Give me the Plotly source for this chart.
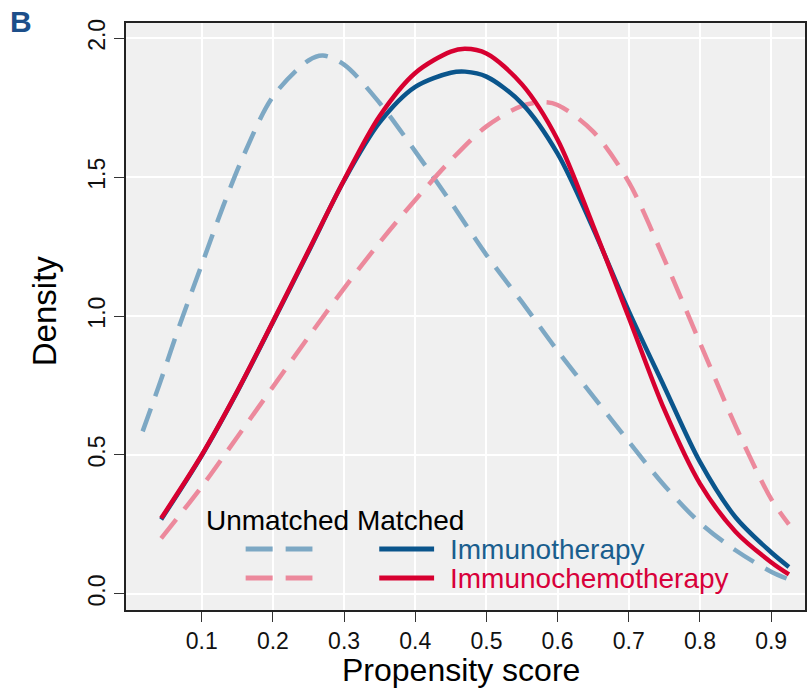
import plotly.graph_objects as go

# ---- data ----
unm_immuno_x = [0.017, 0.04, 0.07, 0.10, 0.13, 0.16, 0.20, 0.25, 0.27, 0.30, 0.35, 0.40, 0.45,
                0.50, 0.55, 0.60, 0.65, 0.70, 0.75, 0.80, 0.85, 0.90, 0.925]
unm_immuno_y = [0.585, 0.750, 0.975, 1.185, 1.395, 1.585, 1.790, 1.920, 1.938, 1.905, 1.767, 1.593, 1.410,
                1.220, 1.050, 0.875, 0.711, 0.548, 0.390, 0.256, 0.157, 0.080, 0.052]

unm_chemo_x = [0.043, 0.10, 0.15, 0.20, 0.25, 0.30, 0.35, 0.40, 0.45, 0.50, 0.55, 0.58,
               0.60, 0.65, 0.70, 0.75, 0.80, 0.85, 0.90, 0.925]
unm_chemo_y = [0.200, 0.386, 0.565, 0.745, 0.925, 1.100, 1.265, 1.418, 1.561, 1.683, 1.757, 1.770,
               1.760, 1.664, 1.482, 1.204, 0.904, 0.605, 0.342, 0.250]

mat_immuno_x = [0.043, 0.10, 0.15, 0.20, 0.25, 0.30, 0.35, 0.40, 0.45, 0.47, 0.50, 0.55,
                0.60, 0.65, 0.70, 0.75, 0.80, 0.85, 0.90, 0.925]
mat_immuno_y = [0.268, 0.498, 0.728, 0.978, 1.232, 1.488, 1.697, 1.825, 1.876, 1.880, 1.862, 1.765,
                1.585, 1.315, 1.018, 0.745, 0.475, 0.276, 0.150, 0.097]

mat_chemo_x = [0.043, 0.10, 0.15, 0.20, 0.25, 0.30, 0.35, 0.40, 0.45, 0.47, 0.50, 0.55,
               0.60, 0.65, 0.70, 0.75, 0.80, 0.85, 0.90, 0.925]
mat_chemo_y = [0.272, 0.500, 0.730, 0.980, 1.235, 1.490, 1.720, 1.875, 1.952, 1.962, 1.945, 1.834,
               1.635, 1.325, 0.995, 0.663, 0.397, 0.224, 0.114, 0.070]

x_ticks = [0.1, 0.2, 0.3, 0.4, 0.5, 0.6, 0.7, 0.8, 0.9]
x_tick_labels = ["0.1", "0.2", "0.3", "0.4", "0.5", "0.6", "0.7", "0.8", "0.9"]
y_ticks = [0.0, 0.5, 1.0, 1.5, 2.0]
y_tick_labels = ["0.0", "0.5", "1.0", "1.5", "2.0"]

C_LBLUE = "#7da8c4"
C_PINK = "#ec899c"
C_DBLUE = "#0a558c"
C_RED = "#d70030"
FONT = "Liberation Sans, Arial, sans-serif"
DASH = "24px,13px"

fig = go.Figure()
fig.add_trace(go.Scatter(x=unm_immuno_x, y=unm_immuno_y, mode="lines",
                         line=dict(color=C_LBLUE, width=4.5, dash=DASH, shape="spline", smoothing=0.9),
                         showlegend=False))
fig.add_trace(go.Scatter(x=unm_chemo_x, y=unm_chemo_y, mode="lines",
                         line=dict(color=C_PINK, width=4.5, dash=DASH, shape="spline", smoothing=0.9),
                         showlegend=False))
fig.add_trace(go.Scatter(x=mat_immuno_x, y=mat_immuno_y, mode="lines",
                         line=dict(color=C_DBLUE, width=4.5, shape="spline", smoothing=0.9),
                         showlegend=False))
fig.add_trace(go.Scatter(x=mat_chemo_x, y=mat_chemo_y, mode="lines",
                         line=dict(color=C_RED, width=4.5, shape="spline", smoothing=0.9),
                         showlegend=False))

# plot area in pixels: x 126..807, y 23..610
L, R, T, B = 126, 807, 23, 610
W, H = R - L, B - T
def px(xp):
    return (xp - L) / W
def py(yp):
    return (B - yp) / H

shapes = [
    # legend backdrop (hides gridlines, below curves)
    dict(type="rect", xref="paper", yref="paper", x0=px(205), x1=px(740), y0=py(500), y1=py(609),
         fillcolor="#f0f0f0", line=dict(width=0), layer="between"),
    # legend samples
    dict(type="line", xref="paper", yref="paper", x0=px(246), x1=px(313), y0=py(549), y1=py(549),
         line=dict(color=C_LBLUE, width=5, dash="27px,13px")),
    dict(type="line", xref="paper", yref="paper", x0=px(246), x1=px(313), y0=py(578), y1=py(578),
         line=dict(color=C_PINK, width=5, dash="27px,13px")),
    dict(type="line", xref="paper", yref="paper", x0=px(380), x1=px(435), y0=py(549), y1=py(549),
         line=dict(color=C_DBLUE, width=5)),
    dict(type="line", xref="paper", yref="paper", x0=px(380), x1=px(435), y0=py(578), y1=py(578),
         line=dict(color=C_RED, width=5)),
]

annotations = [
    dict(text="Unmatched Matched", xref="paper", yref="paper", x=px(204), y=py(520),
         xanchor="left", yanchor="middle", showarrow=False, font=dict(family=FONT, size=28, color="#000")),
    dict(text="Immunotherapy", xref="paper", yref="paper", x=px(449), y=py(549),
         xanchor="left", yanchor="middle", showarrow=False, font=dict(family=FONT, size=28, color="#1a5e8e")),
    dict(text="Immunochemotherapy", xref="paper", yref="paper", x=px(449), y=py(578),
         xanchor="left", yanchor="middle", showarrow=False, font=dict(family=FONT, size=28, color="#d8003a")),
    dict(text="Density", xref="paper", yref="paper", x=px(44), y=py(311), textangle=-90,
         xanchor="center", yanchor="middle", showarrow=False, font=dict(family=FONT, size=33, color="#000")),
    dict(text="Propensity score", xref="paper", yref="paper", x=px(462), y=py(670),
         xanchor="center", yanchor="middle", showarrow=False, font=dict(family=FONT, size=32, color="#000")),
    dict(text="<b>B</b>", xref="paper", yref="paper", x=px(8), y=py(21),
         xanchor="left", yanchor="middle", showarrow=False, font=dict(family=FONT, size=30, color="#1d4f8a")),
]

fig.update_layout(
    width=810, height=691,
    margin=dict(l=L, r=810 - R, t=T, b=691 - B),
    paper_bgcolor="white", plot_bgcolor="#f0f0f0",
    shapes=shapes, annotations=annotations,
    showlegend=False,
    xaxis=dict(range=[-0.0064, 0.9476], tickvals=x_ticks, ticktext=x_tick_labels,
               showgrid=True, gridcolor="white", gridwidth=1.5, zeroline=False,
               showline=True, linecolor="#222", linewidth=1.5, mirror=True,
               ticks="outside", ticklen=10, tickcolor="#333", tickwidth=1.2,
               tickfont=dict(family=FONT, size=23, color="#111")),
    yaxis=dict(range=[-0.058, 2.055], tickvals=y_ticks, ticktext=y_tick_labels,
               showgrid=True, gridcolor="white", gridwidth=1.5, zeroline=False,
               showline=True, linecolor="#222", linewidth=1.5, mirror=True,
               ticks="outside", ticklen=10, tickcolor="#333", tickwidth=1.2, tickangle=-90,
               tickfont=dict(family=FONT, size=23, color="#111")),
)

fig.write_html("out.html")
